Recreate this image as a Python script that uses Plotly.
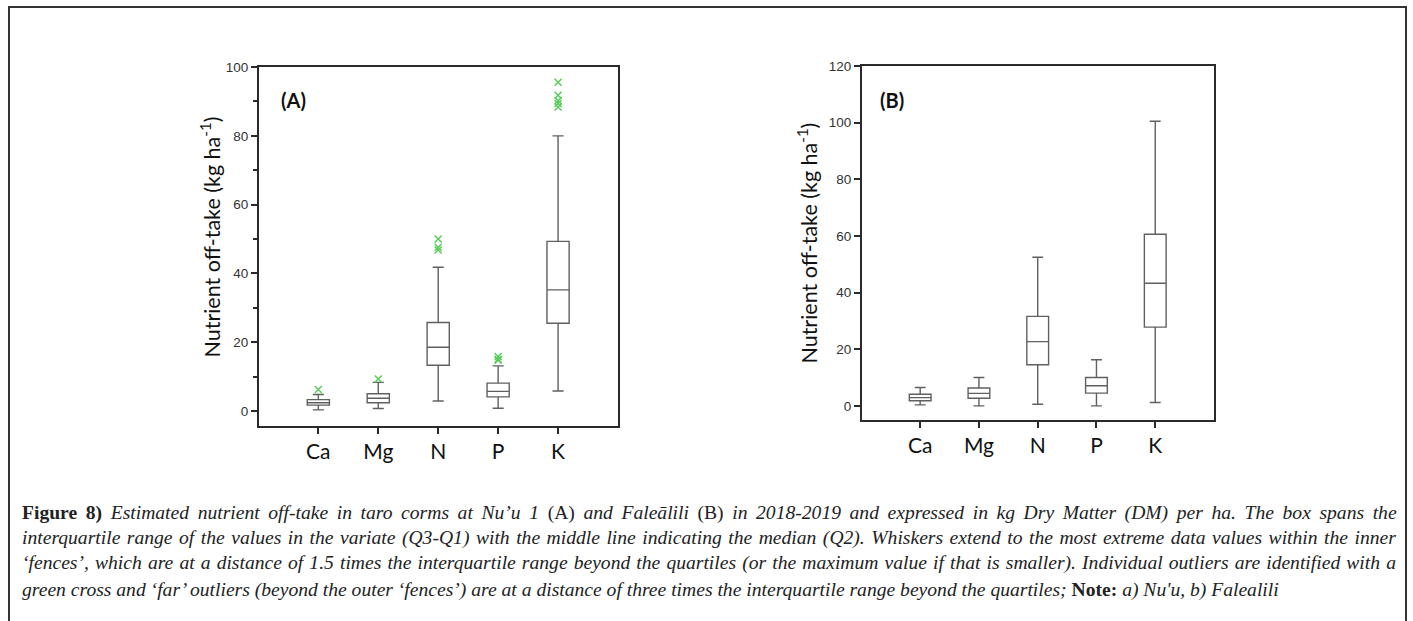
import plotly.graph_objects as go

W, H = 1413, 621

nutrients = ["Ca", "Mg", "N", "P", "K"]

# Panel (A) Nu'u 1: box statistics per nutrient (kg/ha)
a_min = [0.3, 0.7, 2.9, 0.8, 5.8]
a_q1 = [1.7, 2.4, 13.3, 4.1, 25.5]
a_med = [2.4, 3.7, 18.5, 5.7, 35.2]
a_q3 = [3.3, 5.0, 25.7, 8.1, 49.3]
a_max = [4.8, 8.3, 41.8, 13.1, 80.0]

# Panel (A) outliers
a_out_x = ["Ca", "Mg", "N", "N", "N", "P", "P", "P", "K", "K", "K", "K", "K"]
a_out_y = [6.2, 9.3, 50.0, 47.6, 46.8, 15.8, 15.0, 14.7, 95.6, 91.8, 90.2, 89.4, 88.4]

# Panel (B) Falealili: box statistics per nutrient (kg/ha)
b_min = [0.35, 0.0, 0.6, 0.0, 1.2]
b_q1 = [1.8, 2.7, 14.5, 4.5, 27.8]
b_med = [2.9, 4.4, 22.7, 7.1, 43.3]
b_q3 = [4.1, 6.3, 31.6, 10.0, 60.6]
b_max = [6.5, 10.0, 52.5, 16.3, 100.5]

a_yticks = [0, 20, 40, 60, 80, 100]
b_yticks = [0, 20, 40, 60, 80, 100, 120]

caption_lines = [
    "<b>Figure 8)</b> <i>Estimated nutrient off-take in taro corms at Nu’u 1</i> (A) <i>and Faleālili</i> (B) "
    "<i>in 2018-2019 and expressed in kg Dry Matter (DM) per ha. The box spans the</i>",
    "<i>interquartile range of the values in the variate (Q3-Q1) with the middle line indicating the median (Q2). "
    "Whiskers extend to the most extreme data values within the inner</i>",
    "<i>‘fences’, which are at a distance of 1.5 times the interquartile range beyond the quartiles "
    "(or the maximum value if that is smaller). Individual outliers are identified with a</i>",
    "<i>green cross and ‘far’ outliers (beyond the outer ‘fences’) are at a distance of three times "
    "the interquartile range beyond the quartiles;</i> <b>Note:</b> <i>a) Nu'u, b) Falealili</i>",
]
# extra word spacing (px) that stretches each caption line to the full text width
caption_word_spacing = [3.7, 1.6, 1.2, 0.0]
caption_y = [512, 537, 562, 588]

BOX_LINE = "#606060"
AXIS_LINE = "#2a2a2a"
TICK_FONT = dict(family="Liberation Sans, Arial", size=13.5, color="#333333")
CAT_FONT = dict(family="Lato, Open Sans", size=21, color="#111111")


def px_x(p):
    return p / W


def px_y(p):
    # convert a pixel row (from the top) into paper fraction
    q = (p - 7.1) / 0.986
    return min(1.0, 1 - q / H)


fig = go.Figure()

fig.add_trace(go.Box(
    x=nutrients, q1=a_q1, median=a_med, q3=a_q3,
    lowerfence=a_min, upperfence=a_max,
    width=0.37, fillcolor="white", line=dict(color=BOX_LINE, width=1.4),
    boxpoints=False, xaxis="x", yaxis="y", showlegend=False,
))
fig.add_trace(go.Scatter(
    x=a_out_x, y=a_out_y, mode="markers",
    marker=dict(symbol="x-thin", size=7, line=dict(color="#55cc55", width=1.4)),
    xaxis="x", yaxis="y", showlegend=False,
))
fig.add_trace(go.Box(
    x=nutrients, q1=b_q1, median=b_med, q3=b_q3,
    lowerfence=b_min, upperfence=b_max,
    width=0.37, fillcolor="white", line=dict(color=BOX_LINE, width=1.4),
    boxpoints=False, xaxis="x2", yaxis="y2", showlegend=False,
))

common_x = dict(
    type="category", categoryorder="array", categoryarray=nutrients,
    range=[-0.99, 5.0], showgrid=False, zeroline=False,
    showline=True, linecolor=AXIS_LINE, linewidth=2, mirror=True,
    ticks="outside", ticklen=6, tickwidth=1.5, tickcolor=AXIS_LINE,
    tickfont=CAT_FONT,
)
common_y = dict(
    showgrid=False, zeroline=False,
    showline=True, linecolor=AXIS_LINE, linewidth=2, mirror=True,
    ticks="outside", ticklen=6, tickwidth=1.5, tickcolor=AXIS_LINE,
    tickfont=TICK_FONT,
)

fig.update_layout(
    width=W, height=H,
    margin=dict(l=0, r=0, t=0, b=0),
    paper_bgcolor="white", plot_bgcolor="white",
    xaxis=dict(domain=[px_x(259), px_x(618)], anchor="y", **common_x),
    yaxis=dict(domain=[px_y(425), px_y(67)], anchor="x",
               range=[-4.4, 100], tickvals=a_yticks,
               minor=dict(dtick=10, ticks="outside", ticklen=4, tickcolor=AXIS_LINE),
               **common_y),
    xaxis2=dict(domain=[px_x(862), px_x(1214)], anchor="y2", **common_x),
    yaxis2=dict(domain=[px_y(419), px_y(66)], anchor="x2",
                range=[-5, 120], tickvals=b_yticks, **common_y),
)

annotations = [
    dict(text="<b>(A)</b>", x=px_x(279), y=px_y(100), xanchor="left", yanchor="middle",
         font=dict(family="Lato, Open Sans", size=20, color="#111111")),
    dict(text="<b>(B)</b>", x=px_x(878), y=px_y(100), xanchor="left", yanchor="middle",
         font=dict(family="Lato, Open Sans", size=20, color="#111111")),
    dict(text="Nutrient off-take (kg ha<sup>-1</sup>)", x=px_x(211), y=px_y(237),
         textangle=-90, xanchor="center", yanchor="middle",
         font=dict(family="Lato, Open Sans", size=21.5, color="#111111")),
    dict(text="Nutrient off-take (kg ha<sup>-1</sup>)", x=px_x(808), y=px_y(242),
         textangle=-90, xanchor="center", yanchor="middle",
         font=dict(family="Lato, Open Sans", size=21.5, color="#111111")),
]
for line, ws, yc in zip(caption_lines, caption_word_spacing, caption_y):
    annotations.append(dict(
        text=f'<span style="word-spacing:{ws}px">{line}</span>',
        x=px_x(20), y=px_y(yc), xanchor="left", yanchor="middle",
        font=dict(family="Liberation Serif, Times New Roman", size=19.6, color="#222222"),
    ))
for a in annotations:
    a.update(xref="paper", yref="paper", showarrow=False)
fig.update_layout(annotations=annotations)

# Outer frame around the figure
fig.add_shape(type="rect", xref="paper", yref="paper",
              x0=px_x(9), x1=px_x(1406), y0=-0.05, y1=px_y(6),
              line=dict(color="#333333", width=2))

fig.write_html("out.html")
